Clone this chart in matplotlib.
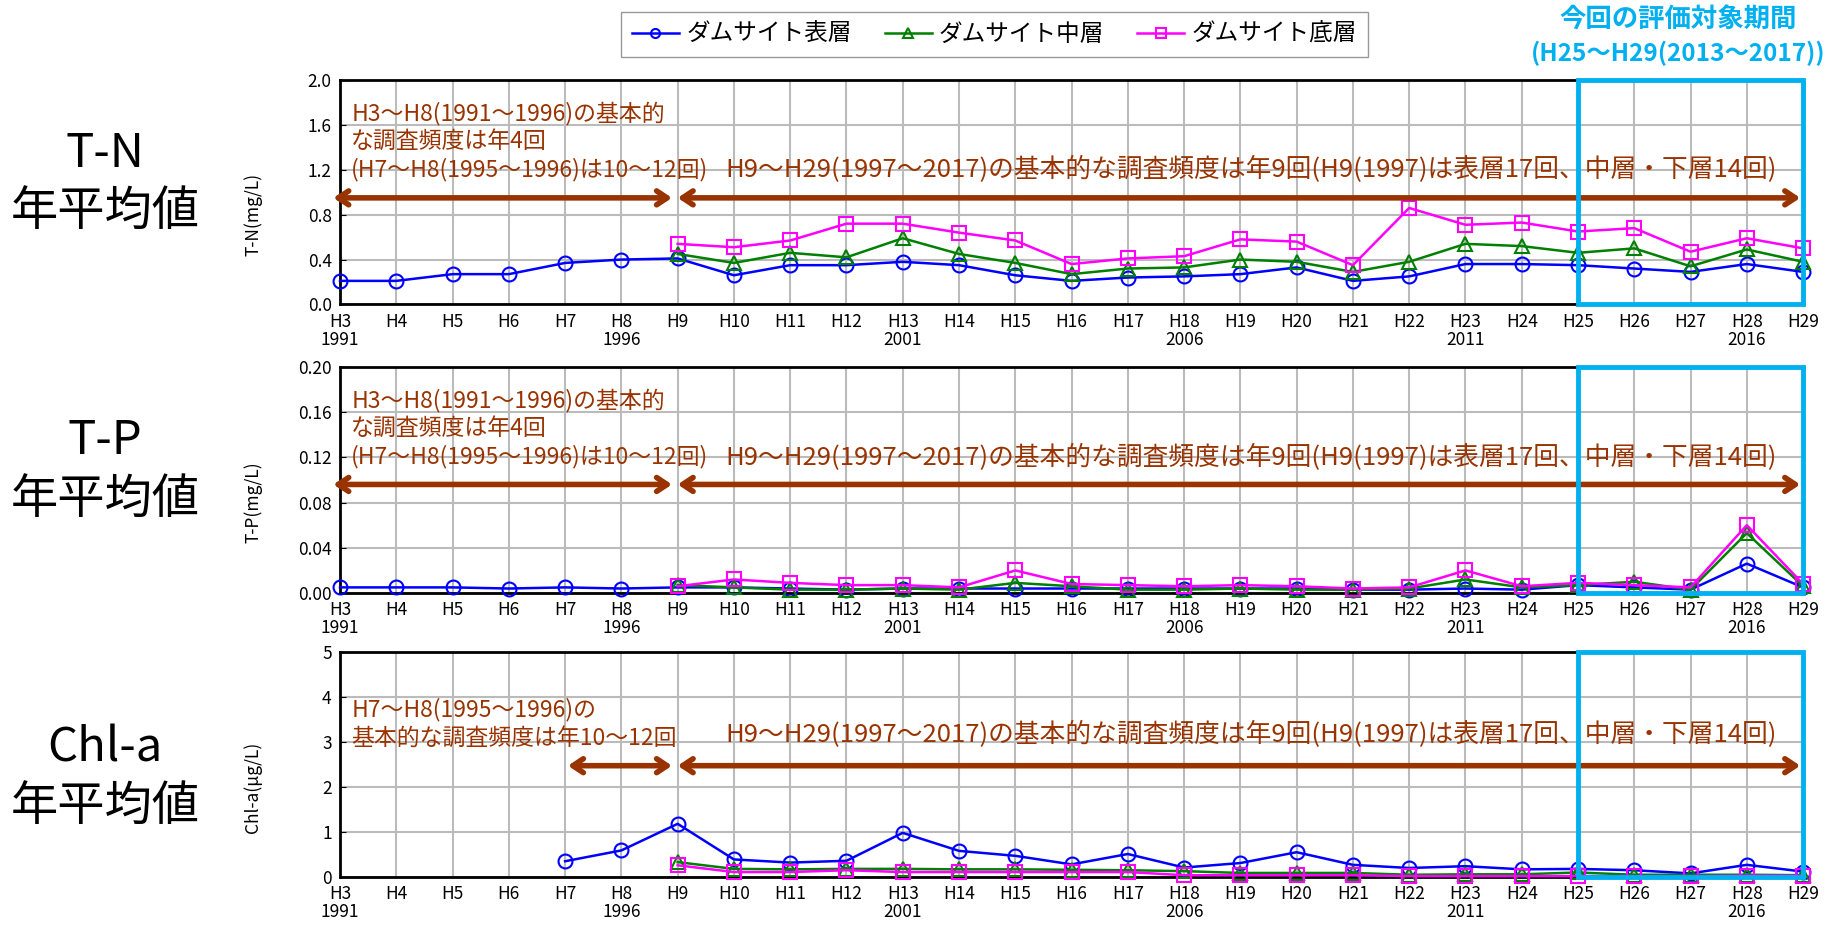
import numpy as np
import matplotlib
matplotlib.use("Agg")
import matplotlib.pyplot as plt
from matplotlib.patches import Rectangle

plt.rcParams["font.family"] = ["Noto Sans CJK JP", "DejaVu Sans"]

nan = np.nan

# H3 (1991) ... H29 (2017)
years_h = [f"H{i}" for i in range(3, 30)]
years_ad = {3: "1991", 8: "1996", 13: "2001", 18: "2006", 23: "2011", 28: "2016"}

series_names = ["ダムサイト表層", "ダムサイト中層", "ダムサイト底層"]

# T-N (mg/L)
tn_surface = [0.21, 0.21, 0.27, 0.27, 0.37, 0.40, 0.41, 0.26, 0.35, 0.35, 0.38, 0.35, 0.26, 0.21,
              0.24, 0.25, 0.27, 0.33, 0.21, 0.25, 0.36, 0.36, 0.35, 0.32, 0.29, 0.36, 0.29]
tn_middle = [nan, nan, nan, nan, nan, nan, 0.45, 0.37, 0.46, 0.42, 0.59, 0.45, 0.37, 0.27,
             0.32, 0.33, 0.40, 0.38, 0.29, 0.38, 0.54, 0.52, 0.46, 0.50, 0.34, 0.49, 0.38]
tn_bottom = [nan, nan, nan, nan, nan, nan, 0.54, 0.51, 0.57, 0.72, 0.72, 0.64, 0.57, 0.36,
             0.41, 0.43, 0.58, 0.56, 0.35, 0.86, 0.71, 0.73, 0.65, 0.68, 0.47, 0.59, 0.50]

# T-P (mg/L)
tp_surface = [0.005, 0.005, 0.005, 0.004, 0.005, 0.004, 0.005, 0.005, 0.004, 0.003, 0.004, 0.004,
              0.004, 0.004, 0.004, 0.004, 0.004, 0.004, 0.003, 0.003, 0.004, 0.003, 0.007, 0.005,
              0.003, 0.026, 0.005]
tp_middle = [nan, nan, nan, nan, nan, nan, 0.007, 0.005, 0.003, 0.003, 0.004, 0.003, 0.009,
             0.006, 0.003, 0.003, 0.004, 0.003, 0.003, 0.004, 0.012, 0.005, 0.007, 0.010, 0.003,
             0.053, 0.006]
tp_bottom = [nan, nan, nan, nan, nan, nan, 0.006, 0.012, 0.009, 0.007, 0.007, 0.005, 0.020,
             0.008, 0.007, 0.006, 0.007, 0.006, 0.004, 0.005, 0.020, 0.006, 0.009, 0.007, 0.005,
             0.060, 0.008]

# Chl-a (ug/L)
chla_surface = [nan, nan, nan, nan, 0.35, 0.59, 1.18, 0.39, 0.32, 0.36, 0.98, 0.58, 0.47, 0.28,
                0.51, 0.21, 0.31, 0.55, 0.27, 0.20, 0.24, 0.17, 0.18, 0.15, 0.08, 0.27, 0.12]
chla_middle = [nan, nan, nan, nan, nan, nan, 0.33, 0.18, 0.17, 0.18, 0.18, 0.17, 0.17, 0.16,
               0.15, 0.13, 0.09, 0.09, 0.09, 0.05, 0.06, 0.06, 0.10, 0.05, 0.05, 0.05, 0.04]
chla_bottom = [nan, nan, nan, nan, nan, nan, 0.26, 0.11, 0.11, 0.15, 0.11, 0.11, 0.11, 0.11,
               0.11, 0.04, 0.04, 0.04, 0.04, 0.02, 0.02, 0.02, 0.02, 0.02, 0.02, 0.03, 0.03]

BROWN = "#993300"
CYAN = "#00B0F0"
colors = ["#0000FF", "#008000", "#FF00FF"]
markers = ["o", "^", "s"]

note_early = "H3～H8(1991～1996)の基本的\nな調査頻度は年4回\n(H7～H8(1995～1996)は10～12回)"
note_chla_early = "H7～H8(1995～1996)の\n基本的な調査頻度は年10～12回"
note_late = "H9～H29(1997～2017)の基本的な調査頻度は年9回(H9(1997)は表層17回、中層・下層14回)"

panels = [
    dict(data=(tn_surface, tn_middle, tn_bottom), ymax=2.0, step=0.4, fmt="{:.1f}",
         ylabel="T-N(mg/L)", title="T-N\n年平均値", rect=[0.185, 0.673, 0.796, 0.241],
         title_y=0.54, arrow_y=0.95, arrow_x0=-0.12, note=note_early, note_y=1.81, late_y=1.20),
    dict(data=(tp_surface, tp_middle, tp_bottom), ymax=0.20, step=0.04, fmt="{:.2f}",
         ylabel="T-P(mg/L)", title="T-P\n年平均値", rect=[0.185, 0.363, 0.796, 0.243],
         title_y=0.54, arrow_y=0.096, arrow_x0=-0.12, note=note_early, note_y=0.181, late_y=0.12),
    dict(data=(chla_surface, chla_middle, chla_bottom), ymax=5, step=1, fmt="{:.0f}",
         ylabel="Chl-a(μg/L)", title="Chl-a\n年平均値", rect=[0.185, 0.058, 0.796, 0.242],
         title_y=0.44, arrow_y=2.47, arrow_x0=4.05, note=note_chla_early, note_y=3.97, late_y=3.15),
]

fig = plt.figure(figsize=(18.38, 9.31), dpi=100)
x = np.arange(len(years_h))
xlabels = [h + ("\n" + years_ad[i + 3] if (i + 3) in years_ad else "") for i, h in enumerate(years_h)]

lines = []
for p in panels:
    ax = fig.add_axes(p["rect"])
    ymax = p["ymax"]
    for vals, c, m, name in zip(p["data"], colors, markers, series_names):
        ln, = ax.plot(x, vals, color=c, marker=m, markersize=10, mfc="none", mec=c,
                      mew=1.5, lw=1.8, label=name, zorder=4, clip_on=False)
        lines.append(ln)

    ax.set_xlim(0, len(years_h) - 1)
    ax.set_ylim(0, ymax)
    ax.set_xticks(x)
    ax.set_xticklabels(xlabels, fontsize=12.5, linespacing=1.0)
    yt = np.arange(0, ymax + p["step"] / 2, p["step"])
    ax.set_yticks(yt)
    ax.set_yticklabels([p["fmt"].format(v) for v in yt], fontsize=12.5)
    ax.tick_params(axis="x", length=0, pad=6)
    ax.tick_params(axis="y", length=4, direction="in", pad=6)
    ax.grid(True, color="#BBBBBB", lw=1.5)
    ax.set_axisbelow(True)
    for s in ax.spines.values():
        s.set_linewidth(2)
        s.set_color("black")
    ax.set_ylabel(p["ylabel"], fontsize=12.5)
    ax.yaxis.set_label_coords(-0.053, 0.4)

    # H25-H29 evaluation window
    ax.add_patch(Rectangle((22, 0), 4, ymax, fill=False, edgecolor=CYAN, lw=3.5,
                           zorder=6, clip_on=False))

    # survey frequency notes
    ay = p["arrow_y"]
    arrow = dict(arrowstyle="<->,head_length=0.75,head_width=0.5", lw=4, color=BROWN,
                 shrinkA=0, shrinkB=0)
    ax.annotate("", xy=(5.9, ay), xytext=(p["arrow_x0"], ay), arrowprops=arrow,
                annotation_clip=False, zorder=5)
    ax.annotate("", xy=(25.95, ay), xytext=(6.0, ay), arrowprops=arrow,
                annotation_clip=False, zorder=5)
    ax.text(0.2, p["note_y"], p["note"], color=BROWN, fontsize=16.5,
            va="top", ha="left", linespacing=1.25, zorder=5)
    ax.text(6.85, p["late_y"], note_late, color=BROWN, fontsize=18.5,
            va="center", ha="left", zorder=5)

    fig.text(0.057, p["rect"][1] + p["rect"][3] * p["title_y"], p["title"], fontsize=34,
             ha="center", va="center", linespacing=1.3)

fig.legend(lines[:3], series_names, loc="center", bbox_to_anchor=(0.541, 0.963), ncol=3,
           fontsize=17, frameon=True, fancybox=False, edgecolor="#808080", handlelength=2.0,
           columnspacing=1.4, markerscale=0.65, borderpad=0.45, handletextpad=0.3)

fig.text(0.913, 0.978, "今回の評価対象期間", color=CYAN, fontsize=19, fontweight="bold",
         ha="center", va="center")
fig.text(0.913, 0.943, "(H25～H29(2013～2017))", color=CYAN, fontsize=17.5, fontweight="bold",
         ha="center", va="center")

fig.savefig("out.png", dpi=100)
